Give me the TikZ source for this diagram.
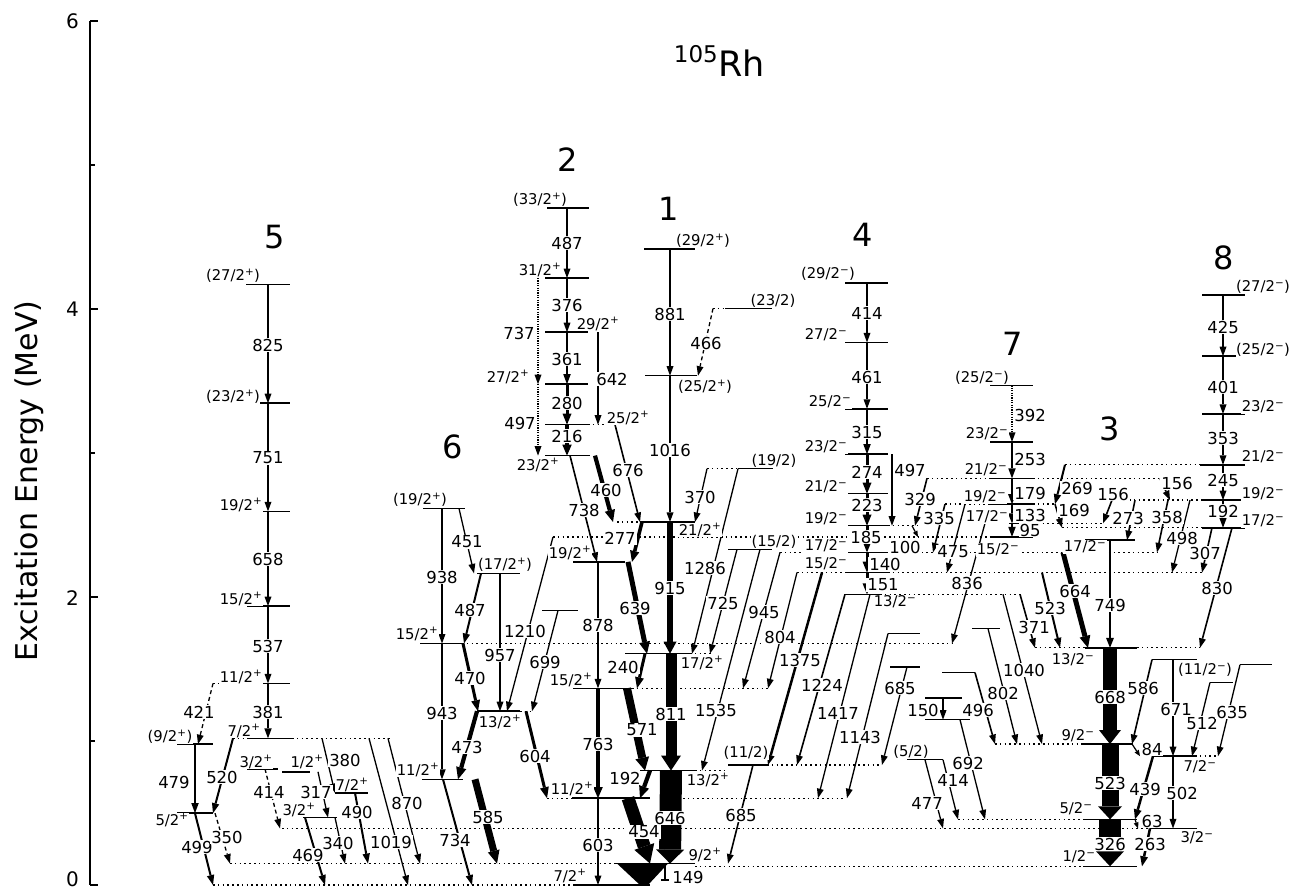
\documentclass[tikz,border=0pt]{standalone}
\usepackage{fontspec}
\setmainfont{DejaVu Sans}
\usetikzlibrary{arrows.meta}
\newcommand\Pp{\textsuperscript{+}}
\newcommand\Pm{\textsuperscript{−}}
\pgfmathdeclarefunction{ey}{1}{\pgfmathparse{885-0.144*#1}}
\newcounter{nd}
\newcommand\LV[3]{\draw[lvl] (#1,{ey(#3)}) -- (#2,{ey(#3)});}
\newcommand\DL[3]{\draw[dlv] (#1,{ey(#3)}) -- (#2,{ey(#3)});}
\newcommand\GM[5]{\draw[#1] (#2,{ey(#3)}) -- (#4,{ey(#5)});}
\newcommand\EN[3]{\stepcounter{nd}\node[elab] (n\arabic{nd}) at (#1,#2) {#3};}
\newcommand\SP[3]{\stepcounter{nd}\node[slab] (n\arabic{nd}) at (#1,#2) {#3};}
\tikzset{
 lvl/.style={line width=1.5pt},
 dlv/.style={line width=1.3pt, dash pattern=on 1.6pt off 3.2pt},
 gw/.style n args={3}{line width=#1pt, -{Triangle[length=#2pt,width=#3pt,line width=0pt]}},
 gT/.style={gw={1.3}{9.5}{7}},
 gM/.style={gw={2}{10}{7.5}},
 gK/.style={gw={3}{11}{9}},
 gL/.style={gw={4.2}{12}{10.5}},
 gD/.style={gT, dash pattern=on 1.2pt off 1.2pt},
 gS/.style={gT, dash pattern=on 4pt off 3pt},
 gsm/.style={gw={1.2}{6}{5}},
 elab/.style={fill=white, inner sep=0.8pt, font=\fontsize{16.5}{16.5}\selectfont},
 slab/.style={fill=white, inner sep=0.5pt, font=\fontsize{14.8}{14.8}\selectfont},
 bnum/.style={font=\fontsize{32}{32}\selectfont},
}
\begin{document}
\begin{tikzpicture}[x=1pt,y=-1pt]
\useasboundingbox (0,0) rectangle (1294,892);
\fill[white] (0,0) rectangle (1294,892);
% axis
\draw[line width=1.5pt] (90,21) -- (90,885);
\foreach \e in {0,2,4,6} {\draw[line width=1.5pt] (90,{885-144*\e}) -- (98,{885-144*\e});}
\foreach \e in {1,3,5} {\draw[line width=1.5pt] (90,{885-144*\e}) -- (95,{885-144*\e});}
\node[anchor=east, inner sep=0pt, font=\fontsize{20}{20}\selectfont] (ax6) at (79,21) {6};
\node[anchor=east, inner sep=0pt, font=\fontsize{20}{20}\selectfont] (ax4) at (79,309) {4};
\node[anchor=east, inner sep=0pt, font=\fontsize{20}{20}\selectfont] (ax2) at (79,598) {2};
\node[anchor=east, inner sep=0pt, font=\fontsize{20}{20}\selectfont] (ax0) at (79,879) {0};
\node[rotate=90, anchor=base, font=\fontsize{30}{30}\selectfont] (axt) at (37,481) {Excitation Energy (MeV)};
% title
\node[anchor=base east, inner sep=0pt, font=\fontsize{23}{23}\selectfont] (ti1) at (718,62) {105};
\node[anchor=base west, inner sep=0pt, font=\fontsize{35}{35}\selectfont] (ti2) at (718,76) {Rh};
% band numbers
\node[bnum] (b5) at (275,237) {5};
\node[bnum] (b2) at (568,160) {2};
\node[bnum] (b1) at (669,209) {1};
\node[bnum] (b4) at (863,235) {4};
\node[bnum] (b7) at (1013,344) {7};
\node[bnum] (b3) at (1110,429) {3};
\node[bnum] (b8) at (1224,258) {8};
\node[bnum] (b6) at (453,447) {6};

% ---------- dotted level extensions
\DL{213}{573}{0}
\DL{230}{615}{149}
\DL{695}{1083}{130}
\DL{282}{1150}{393}
\DL{958}{1083}{456}
\DL{547}{572}{603}
\DL{683}{845}{603}
\DL{695}{728}{795}
\DL{767}{882}{834}
\DL{233}{247}{1019}
\DL{292}{390}{1019}
\DL{213}{247}{1400}
\DL{632}{768}{1366}
\DL{690}{712}{1606}
\DL{462}{952}{1677}
\DL{520}{533}{1207}
\DL{880}{1020}{2019}
\DL{797}{845}{2170}
\DL{888}{1202}{2170}
\DL{780}{845}{2310}
\DL{888}{1157}{2310}
\DL{553}{990}{2417}
\DL{888}{918}{2495}
\DL{617}{640}{2521}
\DL{945}{990}{2645}
\DL{1033}{1055}{2645}
\DL{1033}{1103}{2512}
\DL{927}{990}{2824}
\DL{1033}{1160}{2824}
\DL{707}{738}{2891}
\DL{588}{610}{3197}
\DL{1065}{1200}{2918}
\DL{1105}{1202}{2673}
\DL{1062}{1202}{2481}
\DL{713}{725}{4003}
\DL{1035}{1085}{1647}
\DL{1137}{1200}{1647}
\DL{995}{1083}{979}
\DL{1195}{1218}{895}

% ---------- levels
% band 5 and low-lying
\LV{246}{290}{4171}
\LV{247}{290}{3346}
\LV{247}{290}{2595}
\LV{247}{290}{1937}
\LV{247}{290}{1400}
\LV{247}{292}{1019}
\LV{177}{213}{978}
\LV{177}{213}{499}
\LV{247}{278}{806}
\LV{282}{310}{786}
\LV{303}{337}{469}
\LV{335}{368}{639}
% band 6
\LV{423}{465}{2615}
\LV{477}{520}{2164}
\LV{420}{462}{1677}
\LV{477}{520}{1207}
\LV{422}{463}{734}
\LV{542}{578}{1906}
% band 2
\LV{547}{589}{4702}
\LV{545}{589}{4215}
\LV{545}{588}{3839}
\LV{545}{588}{3478}
\LV{545}{588}{3197}
\LV{545}{590}{2982}
\LV{573}{625}{2244}
\LV{573}{632}{1366}
\LV{572}{650}{603}
\LV{573}{650}{0}
% band 1
\LV{644}{695}{4418}
\LV{725}{772}{4003}
\LV{645}{697}{3537}
\LV{738}{773}{2891}
\LV{640}{695}{2521}
\LV{728}{772}{2331}
\LV{625}{690}{1606}
\LV{640}{695}{795}
\LV{728}{767}{834}
\LV{615}{695}{149}
% band 4
\foreach \e in {4182,3768,3307,2992,2718,2495,2310,2170} {\LV{845}{888}{\e}}
\LV{845}{880}{2019}
% misc levels
\LV{888}{920}{1746}
\LV{890}{920}{1514}
\LV{942}{975}{1475}
\LV{925}{962}{1298}
\LV{925}{970}{1148}
\LV{907}{943}{870}
\LV{972}{1000}{1781}
% band 7
\foreach \e in {3469,3077,2824,2645,2512,2417} {\LV{990}{1033}{\e}}
% band 3
\LV{1085}{1135}{2395}
\LV{1085}{1137}{1647}
\LV{1083}{1133}{979}
\LV{1083}{1137}{456}
\LV{1083}{1137}{130}
\LV{1152}{1197}{1565}
\LV{1153}{1195}{895}
\LV{1150}{1197}{393}
\LV{1210}{1233}{1407}
\LV{1240}{1272}{1530}
% band 8
\foreach \e in {4097,3672,3271,2673,2481} {\LV{1202}{1245}{\e}}
\LV{1200}{1245}{2918}

% ---------- transitions
% band 5
\GM{gT}{268}{4171}{268}{3346}
\GM{gT}{268}{3346}{268}{2595}
\GM{gT}{268}{2595}{268}{1937}
\GM{gw={1.6}{9.5}{7}}{268}{1937}{268}{1400}
\GM{gM}{268}{1400}{268}{1019}
\GM{gS}{213}{1400}{198}{978}
\GM{gM}{195}{978}{195}{499}
\GM{gM}{233}{1019}{213}{499}
\GM{gM}{195}{499}{213}{0}
\GM{gS}{215}{499}{230}{149}
\GM{gS}{265}{806}{280}{393}
\GM{gT}{318}{786}{328}{469}
\GM{gM}{305}{469}{325}{0}
\GM{gT}{335}{469}{345}{149}
\GM{gT}{322}{1019}{335}{639}
\GM{gM}{355}{639}{368}{149}
\GM{gT}{369}{1019}{408}{0}
\GM{gT}{388}{1019}{420}{149}
% band 6
\GM{gw={1.6}{9.5}{7}}{442}{2615}{442}{1677}
\GM{gT}{459}{2615}{474}{2164}
\GM{gM}{481}{2164}{464}{1677}
\GM{gT}{500}{2164}{500}{1207}
\GM{gM}{442}{1677}{442}{734}
\GM{gK}{463}{1677}{478}{1207}
\GM{gT}{553}{2417}{507}{1207}
\GM{gT}{558}{1906}{532}{1207}
\GM{gL}{477}{1207}{458}{734}
\GM{gK}{526}{1207}{547}{603}
\GM{gM}{443}{734}{472}{0}
\GM{gw={7}{13}{12}}{475}{734}{497}{149}
% band 2
\GM{gT}{567}{4702}{567}{4215}
\GM{gw={1.6}{9.5}{7}}{567}{4215}{567}{3839}
\GM{gD}{538}{4215}{538}{3478}
\GM{gM}{567}{3839}{567}{3478}
\GM{gT}{598}{3839}{598}{3197}
\GM{gK}{567}{3478}{567}{3197}
\GM{gD}{538}{3478}{538}{2982}
\GM{gw={3.6}{11}{9.5}}{567}{3197}{567}{2982}
\GM{gw={1.6}{9.5}{7}}{570}{2982}{597}{2244}
\GM{gL}{595}{2982}{613}{2521}
\GM{gw={1.6}{9.5}{7}}{615}{3197}{640}{2521}
\GM{gw={3.6}{11}{9.5}}{642}{2521}{632}{2244}
\GM{gw={5}{12}{11}}{628}{2244}{647}{1606}
\GM{gw={1.6}{9.5}{7}}{598}{2244}{598}{1366}
\GM{gK}{645}{1606}{637}{1366}
\GM{gw={3.6}{11}{9.5}}{598}{1366}{598}{603}
\GM{gw={8}{13}{14}}{627}{1366}{645}{795}
\GM{gL}{650}{795}{640}{603}
\GM{gw={1.6}{9.5}{7}}{598}{603}{598}{0}
\GM{gw={13}{18}{21}}{628}{603}{650}{149}
% band 1
\GM{gw={1.4}{9.5}{7}}{670}{4418}{670}{3537}
\GM{gS}{713}{4003}{698}{3537}
\GM{gw={1.4}{9.5}{7}}{670}{3537}{670}{2521}
\GM{gT}{707}{2891}{695}{2521}
\GM{gT}{738}{2891}{692}{1606}
\GM{gw={6.5}{12}{13}}{670}{2521}{670}{1606}
\GM{gT}{737}{2331}{710}{1606}
\GM{gT}{760}{2331}{702}{795}
\GM{gw={11}{15}{20}}{671}{1606}{671}{795}
\GM{gT}{780}{2310}{743}{1366}
\GM{gT}{797}{2170}{768}{1366}
\GM{gw={2.5}{10}{8}}{822}{2170}{768}{834}
\GM{gw={1.6}{9.5}{7}}{845}{2019}{797}{834}
\GM{gT}{870}{2019}{818}{603}
\GM{gT}{888}{1746}{847}{603}
\GM{gT}{907}{1514}{882}{834}
\GM{gw={1.6}{9.5}{7}}{753}{834}{728}{149}
\GM{gw={22}{14}{28}}{671}{795}{670}{149}
\fill (617,{ey(149)}) -- (668,{ey(149)}) -- (648,{ey(0)}) -- (640,{ey(0)}) -- cycle;
\draw[line width=1.2pt] (665,{ey(140)}) -- (665,{ey(35)});
\draw[line width=1.2pt] (661,{ey(35)}) -- (669,{ey(35)});
% band 4
\GM{gT}{867}{4182}{867}{3768}
\GM{gw={1.6}{9.5}{7}}{867}{3768}{867}{3307}
\GM{gM}{867}{3307}{867}{2992}
\GM{gK}{867}{2992}{867}{2718}
\GM{gT}{892}{2992}{892}{2495}
\GM{gK}{867}{2718}{867}{2495}
\GM{gK}{867}{2495}{867}{2310}
\GM{gK}{867}{2310}{867}{2170}
\GM{gK}{867}{2170}{867}{2019}
\GM{gw={1.6}{9.5}{7}}{927}{2824}{915}{2495}
\GM{gsm}{912}{2495}{918}{2417}
\GM{gw={1.6}{9.5}{7}}{945}{2645}{933}{2310}
\GM{gT}{965}{2645}{947}{2170}
% band 7
\GM{gD}{1012}{3469}{1012}{3077}
\GM{gM}{1012}{3077}{1012}{2824}
\GM{gw={2.5}{10}{8}}{1012}{2824}{1012}{2645}
\GM{gw={2.5}{10}{8}}{1012}{2645}{1012}{2512}
\GM{gM}{1012}{2512}{1012}{2417}
\GM{gT}{985}{2512}{952}{1677}
\GM{gM}{1065}{2918}{1055}{2645}
\GM{gw={1.6}{9.5}{7}}{1055}{2645}{1062}{2481}
\GM{gw={1.6}{9.5}{7}}{1160}{2824}{1170}{2673}
\GM{gw={1.6}{9.5}{7}}{1112}{2673}{1103}{2512}
\GM{gw={1.6}{9.5}{7}}{1135}{2673}{1127}{2395}
\GM{gw={1.6}{9.5}{7}}{1168}{2673}{1157}{2310}
\GM{gT}{1190}{2673}{1172}{2170}
\GM{gw={1.6}{9.5}{7}}{1212}{2481}{1202}{2170}
\GM{gw={1.6}{9.5}{7}}{1232}{2481}{1200}{1647}
% band 8
\GM{gT}{1223}{4097}{1223}{3672}
\GM{gT}{1223}{3672}{1223}{3271}
\GM{gw={1.6}{9.5}{7}}{1223}{3271}{1223}{2918}
\GM{gw={1.6}{9.5}{7}}{1223}{2918}{1223}{2673}
\GM{gM}{1223}{2673}{1223}{2481}
% band 3
\GM{gw={2.5}{10}{8}}{1110}{2395}{1110}{1647}
\GM{gw={5}{12}{11}}{1063}{2310}{1088}{1647}
\GM{gM}{1042}{2170}{1060}{1647}
\GM{gw={1.6}{9.5}{7}}{1020}{2019}{1035}{1647}
\GM{gw={14}{14}{22}}{1110}{1647}{1110}{979}
\GM{gT}{1003}{2019}{1042}{979}
\GM{gT}{988}{1781}{1017}{979}
\GM{gw={1.6}{9.5}{7}}{975}{1475}{995}{979}
\GM{gw={1.6}{9.5}{7}}{1152}{1565}{1132}{979}
\GM{gT}{1173}{1565}{1173}{895}
\GM{gT}{1210}{1407}{1192}{895}
\GM{gT}{1240}{1530}{1218}{895}
\GM{gsm}{1132}{979}{1140}{895}
\GM{gw={17}{13}{24}}{1110}{979}{1110}{456}
\GM{gw={2.5}{10}{8}}{1153}{895}{1135}{456}
\GM{gT}{1173}{895}{1173}{393}
\GM{gsm}{1135}{456}{1138}{393}
\GM{gw={22}{15}{28}}{1110}{456}{1110}{130}
\GM{gw={2.5}{10}{8}}{1150}{393}{1142}{130}
\GM{gT}{960}{1148}{985}{456}
\GM{gT}{943}{1298}{943}{1148}
\GM{gT}{925}{870}{943}{393}
\GM{gT}{943}{870}{958}{456}

% ---------- spin labels
\SP{233}{276}{(27/2\Pp)}
\SP{233}{397}{(23/2\Pp)}
\SP{241}{505}{19/2\Pp}
\SP{241}{599}{15/2\Pp}
\SP{241}{677}{11/2\Pp}
\SP{244}{731}{7/2\Pp}
\SP{170}{737}{(9/2\Pp)}
\SP{172}{820}{5/2\Pp}
\SP{256}{762}{3/2\Pp}
\SP{307}{762}{1/2\Pp}
\SP{299}{810}{3/2\Pp}
\SP{352}{785}{7/2\Pp}
\SP{420}{500}{(19/2\Pp)}
\SP{505}{565}{(17/2\Pp)}
\SP{417}{634}{15/2\Pp}
\SP{500}{722}{13/2\Pp}
\SP{418}{770}{11/2\Pp}
\SP{540}{200}{(33/2\Pp)}
\SP{540}{270}{31/2\Pp}
\SP{598}{324}{29/2\Pp}
\SP{508}{377}{27/2\Pp}
\SP{628}{418}{25/2\Pp}
\SP{538}{465}{23/2\Pp}
\SP{570}{553}{19/2\Pp}
\SP{571}{680}{15/2\Pp}
\SP{572}{789}{11/2\Pp}
\SP{570}{876}{7/2\Pp}
\SP{703}{241}{(29/2\Pp)}
\SP{773}{301}{(23/2)}
\SP{705}{387}{(25/2\Pp)}
\SP{774}{461}{(19/2)}
\SP{700}{530}{21/2\Pp}
\SP{774}{542}{(15/2)}
\SP{702}{663}{17/2\Pp}
\SP{708}{780}{13/2\Pp}
\SP{746}{753}{(11/2)}
\SP{705}{855}{9/2\Pp}
\SP{828}{274}{(29/2\Pm)}
\SP{826}{335}{27/2\Pm}
\SP{830}{402}{25/2\Pm}
\SP{826}{447}{23/2\Pm}
\SP{826}{487}{21/2\Pm}
\SP{826}{519}{19/2\Pm}
\SP{826}{546}{17/2\Pm}
\SP{826}{564}{15/2\Pm}
\SP{895}{602}{13/2\Pm}
\SP{982}{378}{(25/2\Pm)}
\SP{987}{434}{23/2\Pm}
\SP{986}{470}{21/2\Pm}
\SP{985}{497}{19/2\Pm}
\SP{987}{517}{17/2\Pm}
\SP{998}{550}{15/2\Pm}
\SP{911}{752}{(5/2)}
\SP{1085}{547}{17/2\Pm}
\SP{1073}{660}{13/2\Pm}
\SP{1078}{736}{9/2\Pm}
\SP{1076}{809}{5/2\Pm}
\SP{1079}{857}{1/2\Pm}
\SP{1205}{670}{(11/2\Pm)}
\SP{1200}{767}{7/2\Pm}
\SP{1197}{838}{3/2\Pm}
\SP{1263}{287}{(27/2\Pm)}
\SP{1263}{350}{(25/2\Pm)}
\SP{1263}{407}{23/2\Pm}
\SP{1263}{457}{21/2\Pm}
\SP{1263}{494}{19/2\Pm}
\SP{1263}{521}{17/2\Pm}

% ---------- energy labels
\EN{268}{345}{825}
\EN{268}{458}{751}
\EN{268}{559}{658}
\EN{268}{646}{537}
\EN{268}{712}{381}
\EN{199}{712}{421}
\EN{174}{782}{479}
\EN{222}{777}{520}
\EN{197}{847}{499}
\EN{227}{837}{350}
\EN{269}{792}{414}
\EN{316}{792}{317}
\EN{308}{855}{469}
\EN{338}{843}{340}
\EN{345}{760}{380}
\EN{357}{812}{490}
\EN{407}{803}{870}
\EN{391}{842}{1019}
\EN{442}{577}{938}
\EN{467}{542}{451}
\EN{470}{610}{487}
\EN{500}{655}{957}
\EN{442}{713}{943}
\EN{470}{678}{470}
\EN{525}{631}{1210}
\EN{545}{662}{699}
\EN{467}{747}{473}
\EN{535}{756}{604}
\EN{455}{840}{734}
\EN{488}{817}{585}
\EN{567}{243}{487}
\EN{567}{305}{376}
\EN{519}{333}{737}
\EN{567}{359}{361}
\EN{612}{379}{642}
\EN{567}{403}{280}
\EN{520}{423}{497}
\EN{567}{436}{216}
\EN{584}{510}{738}
\EN{606}{490}{460}
\EN{628}{470}{676}
\EN{620}{538}{277}
\EN{635}{608}{639}
\EN{598}{625}{878}
\EN{623}{667}{240}
\EN{598}{744}{763}
\EN{642}{730}{571}
\EN{625}{778}{192}
\EN{598}{845}{603}
\EN{644}{832}{454}
\EN{670}{314}{881}
\EN{706}{343}{466}
\EN{670}{450}{1016}
\EN{700}{497}{370}
\EN{705}{568}{1286}
\EN{670}{588}{915}
\EN{723}{603}{725}
\EN{716}{710}{1535}
\EN{671}{714}{811}
\EN{764}{612}{945}
\EN{780}{637}{804}
\EN{800}{660}{1375}
\EN{822}{685}{1224}
\EN{838}{713}{1417}
\EN{860}{737}{1143}
\EN{900}{688}{685}
\EN{741}{815}{685}
\EN{670}{818}{646}
\EN{688}{877}{149}
\EN{867}{313}{414}
\EN{867}{377}{461}
\EN{867}{432}{315}
\EN{867}{472}{274}
\EN{910}{470}{497}
\EN{867}{505}{223}
\EN{866}{537}{185}
\EN{885}{564}{140}
\EN{883}{585}{151}
\EN{920}{499}{329}
\EN{939}{518}{335}
\EN{905}{547}{100}
\EN{953}{552}{475}
\EN{1030}{415}{392}
\EN{1030}{459}{253}
\EN{1030}{493}{179}
\EN{1030}{515}{133}
\EN{1030}{530}{95}
\EN{967}{583}{836}
\EN{1077}{488}{269}
\EN{1074}{510}{169}
\EN{1113}{494}{156}
\EN{1177}{483}{156}
\EN{1128}{518}{273}
\EN{1167}{517}{358}
\EN{1182}{538}{498}
\EN{1205}{553}{307}
\EN{1217}{588}{830}
\EN{1223}{327}{425}
\EN{1223}{387}{401}
\EN{1223}{438}{353}
\EN{1223}{480}{245}
\EN{1223}{511}{192}
\EN{1110}{605}{749}
\EN{1075}{591}{664}
\EN{1050}{608}{523}
\EN{1034}{627}{371}
\EN{1110}{697}{668}
\EN{1024}{670}{1040}
\EN{1003}{693}{802}
\EN{978}{710}{496}
\EN{1143}{688}{586}
\EN{1176}{709}{671}
\EN{1202}{723}{512}
\EN{1232}{712}{635}
\EN{1152}{749}{84}
\EN{1110}{783}{523}
\EN{1145}{789}{439}
\EN{1182}{793}{502}
\EN{1152}{821}{63}
\EN{1110}{844}{326}
\EN{1150}{844}{263}
\EN{968}{763}{692}
\EN{923}{710}{150}
\EN{927}{803}{477}
\EN{953}{780}{414}
\end{tikzpicture}
\end{document}
